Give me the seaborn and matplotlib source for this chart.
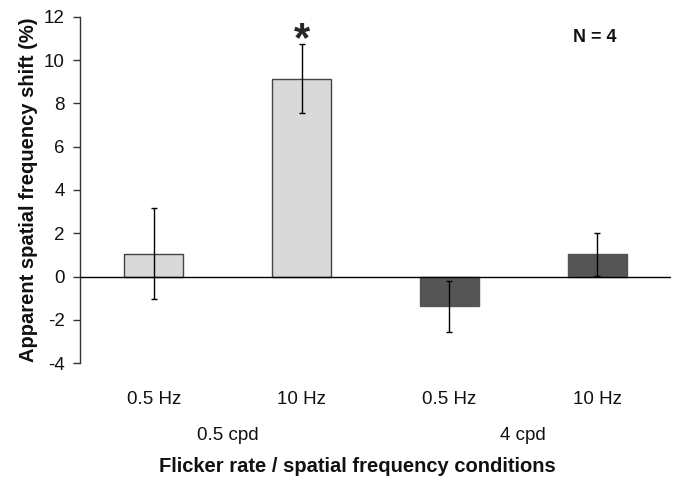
import matplotlib
matplotlib.use("Agg")
import matplotlib.pyplot as plt
import matplotlib.transforms as mtransforms
import seaborn as sns
import pandas as pd

conditions = ["0.5 Hz\n0.5 cpd", "10 Hz\n0.5 cpd", "0.5 Hz\n4 cpd", "10 Hz\n4 cpd"]
tick_labels = ["0.5 Hz", "10 Hz", "0.5 Hz", "10 Hz"]
group_labels = ["0.5 cpd", "4 cpd"]
means = [1.05, 9.15, -1.38, 1.03]
errors = [2.1, 1.6, 1.17, 1.0]
bar_colors = ["#d9d9d9", "#d9d9d9", "#555555", "#555555"]
edge_colors = ["#444444", "#444444", "#555555", "#555555"]

sns.set_theme(style="white")
plt.rcParams["font.family"] = ["Liberation Sans", "DejaVu Sans"]
plt.rcParams["axes.unicode_minus"] = False

df = pd.DataFrame({"cond": conditions, "shift": means})

fig = plt.figure(figsize=(6.73, 4.90), dpi=100)
ax = fig.add_axes([80 / 673, 1 - 363 / 490, 591 / 673, (363 - 17) / 490])

sns.barplot(data=df, x="cond", y="shift", hue="cond", palette=bar_colors,
            width=0.4, legend=False, ax=ax, linewidth=1.0)
for p, ec in zip(ax.patches, edge_colors):
    p.set_edgecolor(ec)

ax.errorbar(range(len(means)), means, yerr=errors, fmt="none", ecolor="black",
            elinewidth=1.0, capsize=2.5, capthick=1.0, zorder=5)

ax.axhline(0, color="black", lw=1.0, zorder=4)

ax.set_ylim(-4, 12)
ax.set_xlim(-0.5, 3.5)
ax.set_yticks(range(-4, 13, 2))
ax.set_xticks(range(4))
ax.set_xticklabels(tick_labels)
ax.tick_params(axis="y", which="both", left=True, length=5, width=1.0,
               color="#333333", labelsize=13.5, pad=6, direction="out",
               labelcolor="#111111")
ax.tick_params(axis="x", bottom=False, labelsize=13.5, pad=14,
               labelcolor="#111111")

for s in ["top", "right", "bottom"]:
    ax.spines[s].set_visible(False)
ax.spines["left"].set_color("#333333")
ax.spines["left"].set_linewidth(1.0)

ax.set_xlabel("")
ax.set_ylabel("Apparent spatial frequency shift (%)", fontsize=14.5,
              fontweight="bold", labelpad=4, color="#111111")
fig.text(357 / 673, 1 - 466 / 490, "Flicker rate / spatial frequency conditions",
         ha="center", va="center", fontsize=14.5, fontweight="bold",
         color="#111111")

trans = mtransforms.blended_transform_factory(ax.transData, fig.transFigure)
ax.text(0.5, 1 - 435 / 490, group_labels[0], transform=trans, ha="center",
        va="center", fontsize=13.5, color="#111111")
ax.text(2.5, 1 - 435 / 490, group_labels[1], transform=trans, ha="center",
        va="center", fontsize=13.5, color="#111111")

ax.text(1, 10.95, "*", ha="center", va="center", fontsize=30, fontweight="bold")
fig.text(595 / 673, 1 - 38 / 490, "N = 4", ha="center", va="center",
         fontsize=13, fontweight="bold", color="#111111")

fig.savefig("out.png", dpi=100)
